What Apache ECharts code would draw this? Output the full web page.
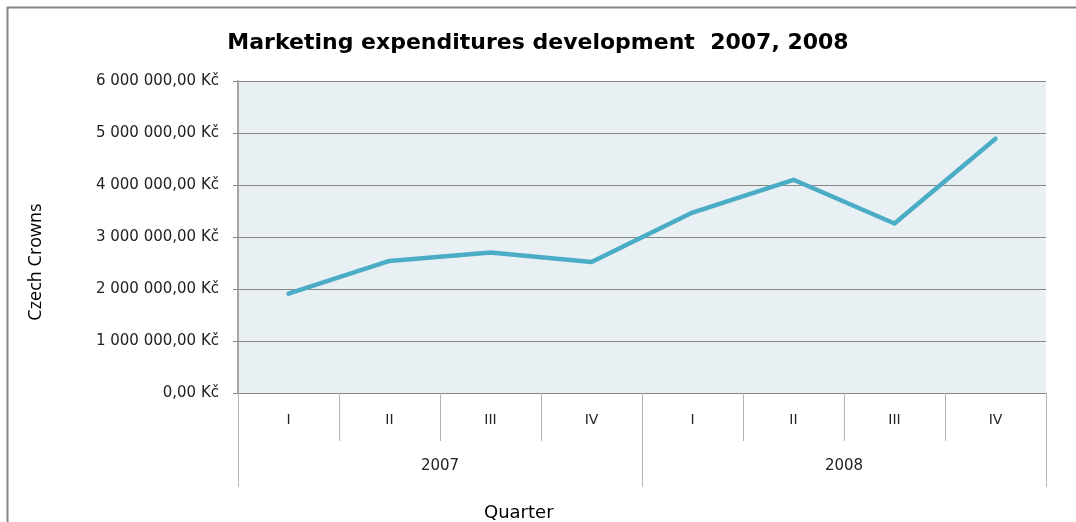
<!DOCTYPE html>
<html>
<head>
<meta charset="utf-8">
<script src="https://cdn.jsdelivr.net/npm/echarts@6/dist/echarts.min.js"></script>
<style>html,body{margin:0;padding:0;background:#fff}#c{width:1076px;height:522px}</style>
</head>
<body>
<div id="c"></div>
<script>
const quarters = ['I','II','III','IV','I','II','III','IV'];
const years = ['2007','2008'];
const expenditures = [1910000, 2540000, 2700000, 2520000, 3470000, 4100000, 3260000, 4890000];
const yTicks = {min: 0, max: 6000000, interval: 1000000};

function fmt(v){
  const s = Math.round(v).toString().replace(/\B(?=(\d{3})+(?!\d))/g, ' ');
  return s + ',00 Kč';
}

const chart = echarts.init(document.getElementById('c'));
chart.setOption({
  backgroundColor: '#ffffff',
  animation: false,
  title: [
    {text: 'Marketing expenditures development  2007, 2008', left: 'center', top: 27,
     textStyle: {fontFamily: 'DejaVu Sans', fontWeight: 'bold', fontSize: 22, color: '#000'}},
    {text: 'Quarter', left: 479, top: 499,
     textStyle: {fontFamily: 'DejaVu Sans', fontWeight: 'normal', fontSize: 18, color: '#000'}}
  ],
  graphic: [
    {type: 'rect', shape: {x: 7.5, y: 7.5, width: 1200, height: 600}, silent: true,
     style: {fill: null, stroke: '#868686', lineWidth: 2}}
  ],
  grid: {left: 238, top: 81, right: 30, bottom: 129, backgroundColor: '#E8F0F4', show: true, borderWidth: 0},
  xAxis: [
    {type: 'category', data: quarters, position: 'bottom', boundaryGap: true,
     axisLine: {show: true, lineStyle: {color: '#878787', width: 1}},
     axisTick: {show: true, length: 48, alignWithLabel: false, lineStyle: {color: '#b5b5b5', width: 1}},
     axisLabel: {margin: 20, fontFamily: 'DejaVu Sans', fontSize: 14, color: '#222'}},
    {type: 'category', data: years, position: 'bottom', offset: 48, boundaryGap: true,
     axisLine: {show: false},
     axisTick: {show: true, length: 46, alignWithLabel: false, lineStyle: {color: '#b5b5b5', width: 1}},
     axisLabel: {margin: 18, fontFamily: 'DejaVu Sans', fontSize: 15, color: '#222'}}
  ],
  yAxis: {
    type: 'value', min: yTicks.min, max: yTicks.max, interval: yTicks.interval,
    name: 'Czech Crowns', nameLocation: 'middle', nameGap: 193, nameRotate: 90,
    nameTextStyle: {fontFamily: 'Open Sans', fontSize: 18, color: '#000', padding: [0, 50, 0, 0]},
    axisLine: {show: true, lineStyle: {color: '#a6a6a6', width: 2}},
    axisTick: {show: true, length: 5, lineStyle: {color: '#878787'}},
    splitLine: {show: true, lineStyle: {color: '#878787', width: 1}},
    axisLabel: {margin: 19, formatter: fmt, fontFamily: 'DejaVu Sans', fontSize: 15, color: '#222'}
  },
  series: [{
    type: 'line', data: expenditures, xAxisIndex: 0, smooth: false,
    showSymbol: false, symbol: 'none',
    lineStyle: {color: '#4BACC6', width: 4.5, cap: 'round', join: 'round'}
  }]
});
</script>
</body>
</html>
